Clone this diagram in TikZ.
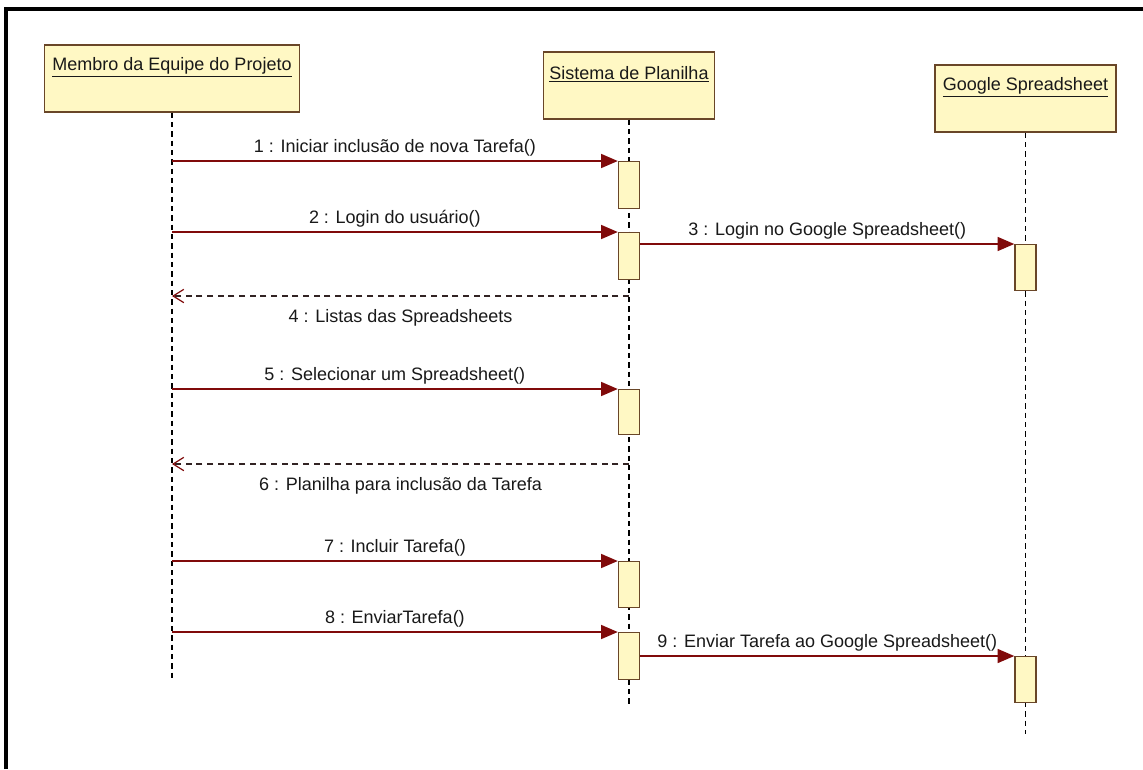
\documentclass[tikz,border=0pt]{standalone}
\usepackage{fontspec}
\setmainfont{Liberation Sans}
\usetikzlibrary{arrows.meta}
\definecolor{boxf}{RGB}{255,248,196}
\definecolor{boxc}{RGB}{105,70,40}
\definecolor{msgc}{RGB}{128,10,10}
\definecolor{retc}{RGB}{50,35,35}
\definecolor{txt}{RGB}{25,25,25}
\begin{document}
\begin{tikzpicture}[x=0.75pt,y=-0.75pt,
  font=\fontsize{13.5}{16}\selectfont, text=txt,
  head/.style={draw=boxc, fill=boxf, line width=1.1pt, minimum height=67*0.75pt, inner sep=0pt},
  title/.style={inner sep=0pt},
  act/.style={draw=boxc, fill=boxf, line width=1.1pt, minimum width=21*0.75pt, minimum height=#1*0.75pt, inner sep=0pt, anchor=north},
  life/.style={draw=black, line width=1.4pt, dash pattern=on 4pt off 3pt},
  msg/.style={draw=msgc, line width=1.1pt, -{Triangle[length=12.5pt,width=10.5pt]}},
  ret/.style={draw=retc, line width=0.9pt, dash pattern=on 4.5pt off 3.5pt, -{Straight Barb[length=8pt,width=10pt,line width=0.9pt,color=msgc]}},
  lbl/.style={above=2pt, inner sep=1pt},
  rlbl/.style={below=8.5pt, inner sep=1pt}]
\useasboundingbox (0,0) rectangle (1143,769);
\fill[white] (0,0) rectangle (1143,769);
\draw[line width=2.4pt] (6,769) -- (6,9) -- (1143,9);

% lifeline heads
\node[head, minimum width=255*0.75pt] (H1) at (172,78.5) {};
\node[head, minimum width=171*0.75pt] (H2) at (629,85.5) {};
\node[head, minimum width=181*0.75pt] (H3) at (1025.5,98.5) {};
\node[title] (T1) at ([yshift=-17pt]H1.north) {\underline{Membro da Equipe do Projeto}};
\node[title] (T2) at ([yshift=-17pt]H2.north) {\underline{Sistema de Planilha}};
\node[title] (T3) at ([yshift=-17pt]H3.north) {\underline{Google Spreadsheet}};

% lifelines
\coordinate (E1) at (172,680);
\coordinate (E2) at (629,707);
\coordinate (E3) at (1025.5,734);
\draw[life] (H1.south) -- (E1);
\draw[life] (H2.south) -- (E2);
\draw[life] (H3.south) -- (E3);

% activations
\node[act=47] (A1) at (629,161) {};
\node[act=47] (A2) at (629,232) {};
\node[act=46] (B3) at (1025.5,244) {};
\node[act=45] (A5) at (629,389) {};
\node[act=46] (A7) at (629,561) {};
\node[act=47] (A8) at (629,632) {};
\node[act=46] (B9) at (1025.5,656) {};

\coordinate (R4) at (629,296);
\coordinate (R6) at (629,464);

% messages
\draw[msg] (H1.south |- A1.north) -- node[lbl] {1 : Iniciar inclusão de nova Tarefa()} (A1.north west);
\draw[msg] (H1.south |- A2.north) -- node[lbl] {2 : Login do usuário()} (A2.north west);
\draw[msg] (A2.east |- B3.north) -- node[lbl] {3 : Login no Google Spreadsheet()} (B3.north west);
\draw[ret] (R4) -- node[rlbl] {4 : Listas das Spreadsheets} (H1.south |- R4);
\draw[msg] (H1.south |- A5.north) -- node[lbl] {5 : Selecionar um Spreadsheet()} (A5.north west);
\draw[ret] (R6) -- node[rlbl] {6 : Planilha para inclusão da Tarefa} (H1.south |- R6);
\draw[msg] (H1.south |- A7.north) -- node[lbl] {7 : Incluir Tarefa()} (A7.north west);
\draw[msg] (H1.south |- A8.north) -- node[lbl] {8 : EnviarTarefa()} (A8.north west);
\draw[msg] (A8.east |- B9.north) -- node[lbl] {9 : Enviar Tarefa ao Google Spreadsheet()} (B9.north west);
\end{tikzpicture}
\end{document}
